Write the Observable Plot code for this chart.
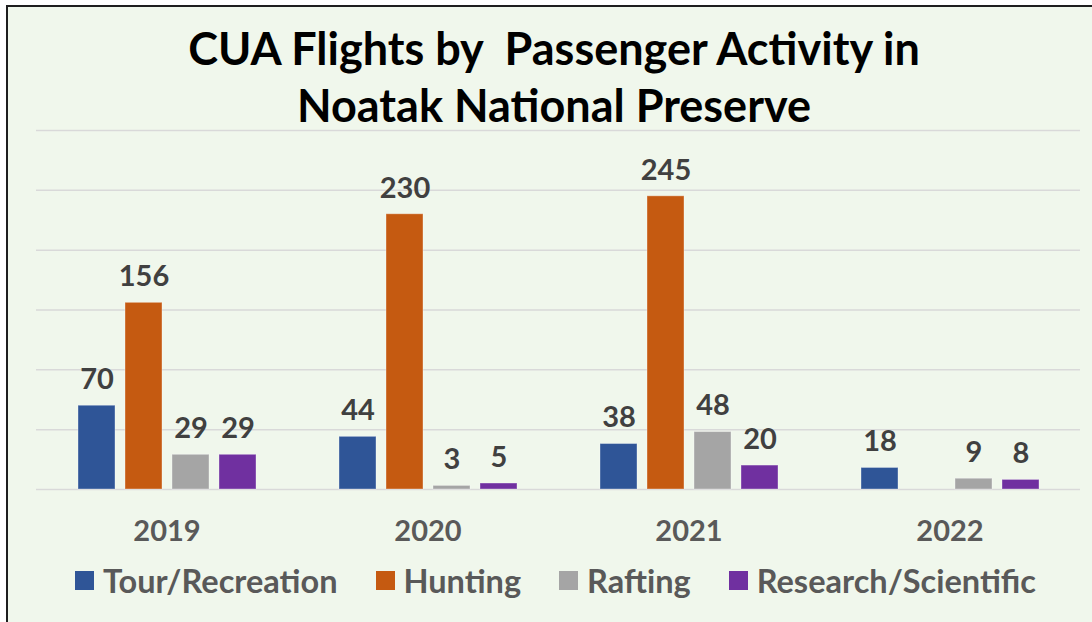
<!DOCTYPE html>
<html>
<head>
<meta charset="utf-8">
<script src="https://cdn.jsdelivr.net/npm/d3@7"></script>
<script src="https://cdn.jsdelivr.net/npm/@observablehq/plot@0.6"></script>
<style>
  html, body { margin: 0; padding: 0; background: #ffffff; overflow: hidden; width: 1092px; height: 622px; }
  #frame { position: absolute; left: 6px; top: 5px; width: 1200px; height: 700px; border-left: 2px solid #1e1e1e; border-top: 2px solid #1e1e1e; background: #f0f7ec; }
  #title { position: absolute; left: 0; top: 20px; width: 1108px; text-align: center; font-family: Lato, sans-serif; font-weight: bold; font-size: 45px; line-height: 57px; color: #000; }
  #chart { position: absolute; left: 0; top: 100px; }
  #legend { position: absolute; left: 75px; top: 562px; height: 36px; display: flex; align-items: center; font-family: Lato, sans-serif; font-weight: bold; font-size: 32.5px; color: #595959; }
  .item { display: flex; align-items: center; margin-right: 38px; }
  .sw { width: 19px; height: 19px; margin-right: 9px; }
</style>
</head>
<body>
<div id="frame"></div>
<div id="title">CUA Flights by&nbsp; Passenger Activity in<br>Noatak National Preserve</div>
<div id="chart"></div>
<div id="legend"></div>
<script>
const years = ["2019", "2020", "2021", "2022"];
const series = ["Tour/Recreation", "Hunting", "Rafting", "Research/Scientific"];
const tour = [70, 44, 38, 18];
const hunting = [156, 230, 245, null];
const rafting = [29, 3, 48, 9];
const research = [29, 5, 20, 8];
const colors = ["#2f5597", "#c55a11", "#a5a5a5", "#7030a0"];
const yTicks = [0, 50, 100, 150, 200, 250, 300];

const valuesBySeries = [tour, hunting, rafting, research];
const data = [];
years.forEach((yr, i) => {
  series.forEach((s, j) => {
    const v = valuesBySeries[j][i];
    if (v != null) data.push({year: yr, series: s, value: v});
  });
});

const chart = Plot.plot({
  width: 1092,
  height: 460,
  marginTop: 30,
  marginBottom: 71,
  marginLeft: 35,
  marginRight: 11,
  style: {background: "transparent", fontFamily: "Lato, sans-serif", overflow: "visible"},
  fx: {domain: years, padding: 0, axis: null, label: null},
  x: {domain: series, paddingInner: 0.221, paddingOuter: 0.863, axis: null},
  y: {domain: [0, 300], axis: null},
  color: {domain: series, range: colors},
  marks: [
    Plot.ruleY(yTicks, {stroke: "#d9d9d9", strokeWidth: 1.5}),
    Plot.barY(data, {fx: "year", x: "series", y: "value", fill: "series", stroke: "#ffffff", strokeOpacity: 0.35, strokeWidth: 1}),
    Plot.text(data, {fx: "year", x: "series", y: "value", text: d => String(d.value), dy: -26, fontSize: 29, fontWeight: "bold", fill: "#404040"}),
    Plot.text(years, {fx: d => d, text: d => d, frameAnchor: "bottom", dy: 51, fontSize: 29, fontWeight: "bold", fill: "#595959"})
  ]
});
document.getElementById("chart").appendChild(chart);

const legend = document.getElementById("legend");
series.forEach((s, j) => {
  const item = document.createElement("div");
  item.className = "item";
  const sw = document.createElement("div");
  sw.className = "sw";
  sw.style.background = colors[j];
  const label = document.createElement("span");
  label.textContent = s;
  item.appendChild(sw);
  item.appendChild(label);
  legend.appendChild(item);
});
</script>
</body>
</html>
